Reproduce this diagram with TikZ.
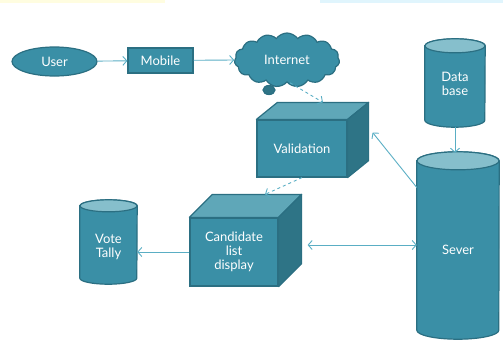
\documentclass[tikz,border=0pt]{standalone}
\usepackage{fontspec}
\setmainfont{Lato}
\usetikzlibrary{arrows.meta,positioning,calc,shapes.geometric,shapes.symbols}
\definecolor{cTeal}{HTML}{3A8FA6}
\definecolor{cEdge}{HTML}{2B6F82}
\definecolor{cTop}{HTML}{5FA7B8}
\definecolor{cSide}{HTML}{2E7486}
\definecolor{cEnd}{HTML}{86BFCC}
\definecolor{cLine}{HTML}{5AAEC4}
\tikzset{
  lbl/.style={text=white,font=\fontsize{13}{14}\selectfont,align=center},
  blob/.style={lbl,fill=cTeal,draw=cEdge,line width=1.2pt,inner sep=0pt},
  face/.style={blob,rectangle},
  frame/.style={rectangle,inner sep=0pt},
  tip/.style={Straight Barb[length=4pt,width=9pt]},
  flow/.style={-{Straight Barb[length=4pt,width=9pt]},line width=0.9pt,cLine},
  dflow/.style={flow,dashed},
  both/.style={flow,{Straight Barb[length=4pt,width=9pt]}-{Straight Barb[length=4pt,width=9pt]}},
}
% top and side faces of a box drawn on a front face node
\newcommand{\boxfaces}[3]{
  \filldraw[fill=cTop,draw=cEdge,line width=1.2pt,line join=round]
    (#1.north west) -- ++(#2,#3) -- ($(#1.north east)+(#2,#3)$)
    -- (#1.north east) -- cycle;
  \filldraw[fill=cSide,draw=cEdge,line width=1.2pt,line join=round]
    (#1.north east) -- ++(#2,#3) -- ($(#1.south east)+(#2,#3)$)
    -- (#1.south east) -- cycle;
}
% a drum filling a frame node: #2 half width, #3 end radius
\newcommand{\drum}[3]{
  \filldraw[fill=cTeal,draw=cEdge,line width=1.2pt]
    ($(#1.north west)+(0,#3)$) -- ($(#1.south west)+(0,-#3)$)
    arc[start angle=180,end angle=0,x radius=#2,y radius=#3]
    -- ($(#1.north east)+(0,#3)$)
    arc[start angle=0,end angle=-180,x radius=#2,y radius=#3] -- cycle;
  \filldraw[fill=cEnd,draw=cEdge,line width=1.2pt]
    ($(#1.north)+(0,#3)$) ellipse[x radius=#2,y radius=#3];
}

\begin{document}
\begin{tikzpicture}[x=1pt,y=-1pt]
  \useasboundingbox (0,0) rectangle (503,362);
  \fill[yellow!12] (0,0) rectangle (165,3);
  \fill[cyan!12] (320,0) rectangle (503,3);

  \node[blob,ellipse,minimum width=85pt,minimum height=29pt] (user) at (54.5,61.5) {User};
  \node[face,minimum width=65pt,minimum height=25pt] (mob) at (160.5,60.5) {Mobile};
  \node[blob,fill=cSide,ellipse,minimum width=12pt,minimum height=9pt] (tail) at (269,90) {};
  \node[blob,cloud,cloud puffs=15,cloud puff arc=110,aspect=2,
        minimum width=105pt,minimum height=54pt] (net) at (287,60) {Internet};

  \node[face,minimum width=90pt,minimum height=57pt] (val) at (302,148.5) {Validation};
  \boxfaces{val}{21}{-17}
  \node[face,minimum width=88pt,minimum height=68pt] (cand) at (234,252) {Candidate\\list\\display};
  \boxfaces{cand}{23}{-23}

  \node[frame,minimum width=57pt,minimum height=84pt] (vote) at (108.5,242) {};
  \drum{vote}{28.5}{6}
  \node[lbl] at (108.5,247) {Vote\\Tally};
  \node[frame,minimum width=60pt,minimum height=88pt] (db) at (455,83) {};
  \drum{db}{30}{7}
  \node[lbl] at (455,84) {Data\\base};
  \node[frame,minimum width=82pt,minimum height=187pt] (serv) at (458,245.5) {};
  \drum{serv}{41}{9}
  \node[lbl] at (458,250) {Sever};

  \coordinate (valTop) at ($(val.north)+(21,-17)$);
  \coordinate (candTop) at ($(cand.north)+(31,-23)$);
  \coordinate (candR) at ($(cand.east)+(29,-7)$);

  \draw[flow] (user) -- (mob);
  \draw[flow] (mob) -- (net.west);
  \draw[dflow] ($(net.south)+(3,0)$) -- (valTop);
  \draw[dflow] (val.south) -- (candTop);
  \draw[flow] ($(serv.west)+(0,-58)$) -- ($(val.east)+(25,-16)$);
  \draw[flow] (db.south) -- ($(db.south |- serv.north)+(0,1)$);
  \draw[both] (candR) -- (candR -| serv.west);
  \draw[flow] (cand.west) -- (cand.west -| vote.east);
\end{tikzpicture}
\end{document}
